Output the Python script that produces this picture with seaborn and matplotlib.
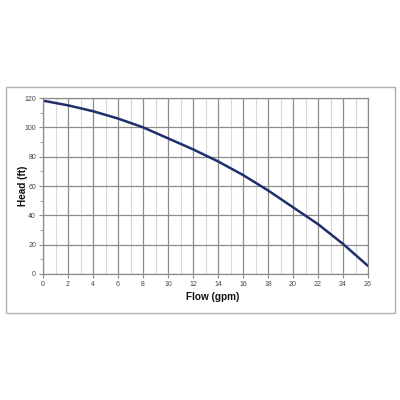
import matplotlib
matplotlib.use("Agg")
import matplotlib.pyplot as plt
import seaborn as sns
import pandas as pd
from matplotlib.patches import Rectangle
from matplotlib.ticker import MultipleLocator

flow = [0, 2, 4, 6, 8, 10, 12, 14, 16, 18, 20, 22, 24, 26]
head = [118.2, 115.0, 111.0, 106.0, 100.0, 92.5, 85.0, 76.8, 67.5, 57.0, 45.5, 34.0, 20.5, 5.5]
x_ticks = list(range(0, 27, 2))
y_ticks = list(range(0, 121, 20))

sns.set_theme(style="white")
plt.rcParams['font.family'] = ['Liberation Sans', 'DejaVu Sans']

fig = plt.figure(figsize=(4, 4), dpi=100)
fig.patch.set_facecolor("white")
fig.patches.append(Rectangle((6/400, 1 - 313/400), 389/400, 226/400,
                             transform=fig.transFigure, fill=False,
                             edgecolor="#b0b0b0", linewidth=1.0))
ax = fig.add_axes([43/400, 1 - 274/400, 325/400, 176/400])

df = pd.DataFrame({"Flow": flow, "Head": head})
sns.lineplot(data=df, x="Flow", y="Head", ax=ax, color="#1f2f6b", linewidth=1.8)

ax.set_xlim(0, 26)
ax.set_ylim(0, 120)
ax.set_xticks(x_ticks)
ax.set_yticks(y_ticks)
ax.xaxis.set_minor_locator(MultipleLocator(1))
ax.yaxis.set_minor_locator(MultipleLocator(10))
ax.grid(which="major", axis="both", color="#8c8c8c", linewidth=0.9)
ax.grid(which="minor", axis="x", color="#d8d8d8", linewidth=0.8)
ax.set_axisbelow(True)
for s in ax.spines.values():
    s.set_color("#8c8c8c")
    s.set_linewidth(0.9)
ax.tick_params(axis="both", which="major", labelsize=5, labelcolor="#444444",
               length=3, width=0.8, color="#8c8c8c", pad=2)
ax.tick_params(axis="y", which="minor", length=2, width=0.6, color="#8c8c8c", left=True)
ax.tick_params(axis="x", which="minor", length=0)
ax.tick_params(axis="x", bottom=True)
ax.tick_params(axis="y", left=True)
ax.set_xlabel("Flow (gpm)", fontsize=7.2, fontweight="bold", color="#111111")
ax.set_ylabel("Head (ft)", fontsize=7.2, fontweight="bold", color="#111111")
ax.xaxis.set_label_coords((212.6 - 43) / 325, -(297.5 - 274) / 176)
ax.yaxis.set_label_coords(-(43 - 23.3) / 325, 0.5)
ax.xaxis.label.set_va("center")
ax.yaxis.label.set_va("center")

fig.savefig("out.png", dpi=100, facecolor="white")
